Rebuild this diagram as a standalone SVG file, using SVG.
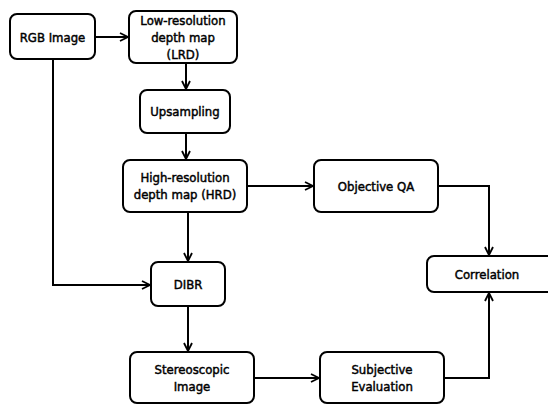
<svg xmlns="http://www.w3.org/2000/svg" width="548" height="405" viewBox="0 0 548 405">
<defs>
<marker id="ah" viewBox="0 0 10 10" refX="9" refY="5" markerWidth="10" markerHeight="10" markerUnits="userSpaceOnUse" orient="auto">
<path d="M1,1 L9,5 L1,9" fill="none" stroke="#000" stroke-width="1.8"/>
</marker>
<style>
.box{fill:#fff;stroke:#000;stroke-width:2}
.t{font-family:"DejaVu Sans Condensed","DejaVu Sans",sans-serif;font-size:13px;fill:#000;stroke:#000;stroke-width:0.45;text-anchor:middle}
.c{fill:none;stroke:#000;stroke-width:2;marker-end:url(#ah)}
</style>
</defs>
<rect width="548" height="405" fill="#fff"/>
<g id="connectors">
<path class="c" d="M95,37 H128"/>
<path class="c" d="M186,63 V89"/>
<path class="c" d="M186,133 V159"/>
<path class="c" d="M247,186 H313"/>
<path class="c" d="M188,212 V261"/>
<path class="c" d="M53,59 V285 H150"/>
<path class="c" d="M438,186 H489 V255"/>
<path class="c" d="M188,306 V351"/>
<path class="c" d="M254,378 H319"/>
<path class="c" d="M444,378 H489 V293"/>
</g>
<g id="rgb"><rect class="box" x="10" y="14" width="85" height="45" rx="7"/><text class="t" x="52.5" y="42">RGB Image</text></g>
<g id="lrd"><rect class="box" x="129" y="11" width="108" height="52" rx="7"/><text class="t" x="183" y="25">Low-resolution</text><text class="t" x="183" y="42">depth map</text><text class="t" x="183" y="59">(LRD)</text></g>
<g id="upsampling"><rect class="box" x="140" y="90" width="90" height="43" rx="7"/><text class="t" x="185" y="116">Upsampling</text></g>
<g id="hrd"><rect class="box" x="123" y="160" width="124" height="52" rx="7"/><text class="t" x="185" y="182">High-resolution</text><text class="t" x="185" y="199">depth map (HRD)</text></g>
<g id="objqa"><rect class="box" x="314" y="160" width="124" height="52" rx="7"/><text class="t" x="376" y="191">Objective QA</text></g>
<g id="correlation"><rect class="box" x="427" y="256" width="128" height="36" rx="7"/><text class="t" x="487" y="279">Correlation</text></g>
<g id="dibr"><rect class="box" x="151" y="262" width="74" height="44" rx="7"/><text class="t" x="188" y="289">DIBR</text></g>
<g id="stereo"><rect class="box" x="130" y="352" width="124" height="51" rx="7"/><text class="t" x="192" y="374">Stereoscopic</text><text class="t" x="192" y="391">Image</text></g>
<g id="subjective"><rect class="box" x="320" y="352" width="124" height="51" rx="7"/><text class="t" x="382" y="374">Subjective</text><text class="t" x="382" y="391">Evaluation</text></g>
</svg>
